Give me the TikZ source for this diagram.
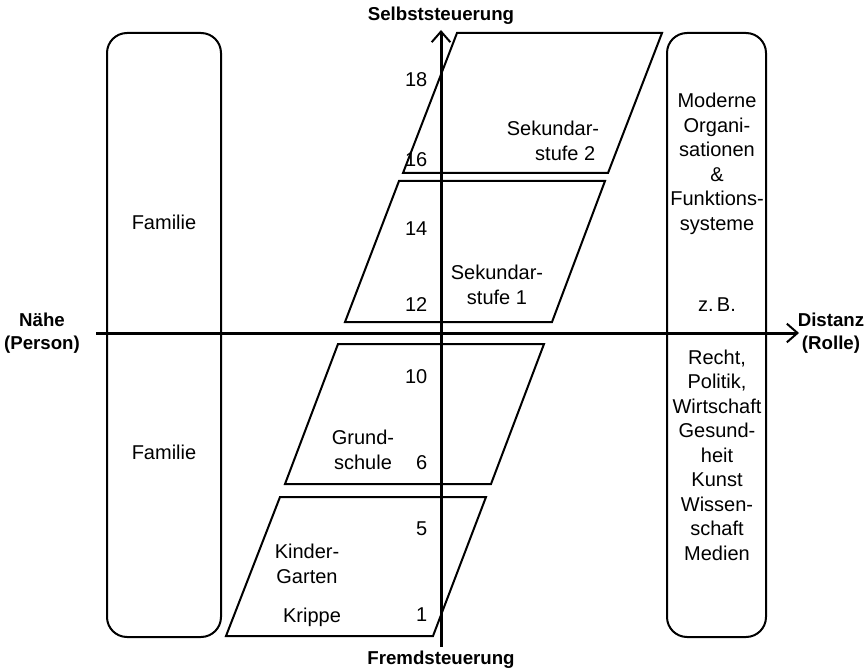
\documentclass[tikz,border=0pt]{standalone}
\usepackage{fontspec}
\setmainfont{Liberation Sans}
\usetikzlibrary{arrows.meta, positioning}

\begin{document}
\begin{tikzpicture}[x=0.75pt, y=-0.75pt,
    every node/.style={font=\fontsize{15}{18.4}\selectfont, align=center},
    head/.style={font=\fontsize{14}{17}\selectfont\bfseries},
    box/.style={draw, line width=1.5pt, rounded corners=15pt},
    stage/.style={draw, line width=1.5pt},
    axis/.style={-{Straight Barb[length=8pt,width=14pt,line width=1.5pt]}, line width=2.25pt}]
  \useasboundingbox (0,0) rectangle (867,670);

  % side boxes
  \draw [box] (107,33) rectangle (221,637);
  \draw [box] (667,33) rectangle (766,637);
  \node (fam1) at (164,222) {Familie};
  \node (fam2) at (164,452) {Familie};
  \node (orga) at (717,164) {Moderne\\Organi-\\sationen\\\&\\Funktions-\\systeme};
  \node (zb) at (717,305) {z.\,B.};
  \node (fsys) at (717,455) {Recht,\\Politik,\\Wirtschaft\\Gesund-\\heit\\Kunst\\Wissen-\\schaft\\Medien};

  % school stages
  \draw [stage] (403,173) -- (608,173) -- (662,33) -- (457,33) -- cycle;
  \draw [stage] (345,322) -- (552,322) -- (605,181) -- (399,181) -- cycle;
  \draw [stage] (285,484) -- (491,484) -- (544,344) -- (338,344) -- cycle;
  \draw [stage] (226,636) -- (433,636) -- (486,497) -- (280,497) -- cycle;
  \node (sek2) at (553,141) {Sekundar-\\\phantom{Se}stufe 2};
  \node (sek1) at (497,285) {Sekundar-\\stufe 1};
  \node (grund) at (363,450) {Grund-\\schule};
  \node (kita) at (307,564) {Kinder-\\Garten};
  \node (krippe) at (312,617) {Krippe};

  % ages
  \node [anchor=east] (a18) at (432,80) {18};
  \node [anchor=east] (a16) at (432,160) {16};
  \node [anchor=east] (a14) at (432,229) {14};
  \node [anchor=east] (a12) at (432,305) {12};
  \node [anchor=east] (a10) at (432,377) {10};
  \node [anchor=east] (a6) at (432,463) {6};
  \node [anchor=east] (a5) at (432,529) {5};
  \node [anchor=east] (a1) at (432,615) {1};

  % axes
  \coordinate (xl) at (96,333);
  \coordinate (xr) at (799,333);
  \coordinate (yb) at (441,647);
  \coordinate (yt) at (441,30);
  \draw [axis] (xl) -- (xr);
  \draw [axis] (yb) -- (yt);
  \node [head] (selbst) at (441,16) {Selbststeuerung};
  \node [head] (fremd) at (441,660) {Fremdsteuerung};
  \node [head] (naehe) at (42,333) {Nähe\\(Person)};
  \node [head] (distanz) at (831,333) {Distanz\\(Rolle)};
\end{tikzpicture}
\end{document}
